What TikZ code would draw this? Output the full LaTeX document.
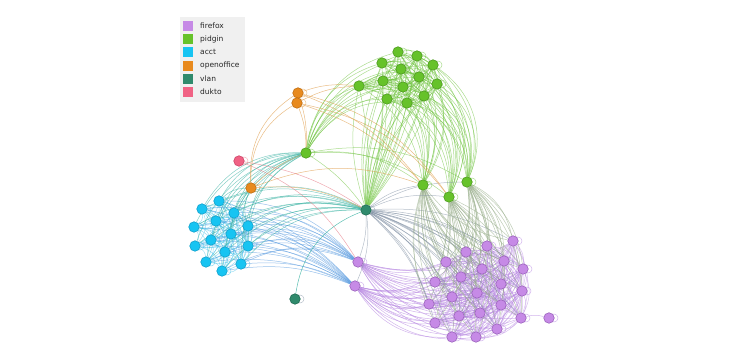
\documentclass[tikz,border=0pt]{standalone}
\usepackage{fontspec}
\setmainfont{DejaVu Sans}
\usetikzlibrary{backgrounds}
\definecolor{lff}{HTML}{C68AE6}
\definecolor{lpi}{HTML}{66C22A}
\definecolor{lac}{HTML}{17C4F2}
\definecolor{loo}{HTML}{E88A1E}
\definecolor{lvl}{HTML}{2F8A6C}
\definecolor{ldu}{HTML}{F06284}
\definecolor{legbg}{HTML}{F0F0F0}
\definecolor{bff}{HTML}{9A62BC}
\definecolor{bpi}{HTML}{4C9A1E}
\definecolor{bac}{HTML}{12A0CC}
\definecolor{boo}{HTML}{C06E12}
\definecolor{bvl}{HTML}{1F6B52}
\definecolor{bdu}{HTML}{CC4469}
\definecolor{egreen}{HTML}{72C443}
\definecolor{ecyan}{HTML}{3CBDE6}
\definecolor{eteal}{HTML}{35B0A0}
\definecolor{eblue}{HTML}{5598DE}
\definecolor{egrey}{HTML}{8493A6}
\definecolor{eolive}{HTML}{93AA85}
\definecolor{epurple}{HTML}{B584E0}
\definecolor{eorange}{HTML}{E0A050}
\definecolor{epink}{HTML}{E8808C}
\begin{document}
\begin{tikzpicture}[x=1pt,y=-1pt,
  vn/.style={circle,minimum size=10.5pt,inner sep=0pt,line width=0.6pt},
  nff/.style={vn,fill=lff,draw=bff},
  npi/.style={vn,fill=lpi,draw=bpi},
  nac/.style={vn,fill=lac,draw=bac},
  noo/.style={vn,fill=loo,draw=boo},
  nvl/.style={vn,fill=lvl,draw=bvl},
  ndu/.style={vn,fill=ldu,draw=bdu},
  ed/.style={line width=0.5pt,opacity=0.6},
  swatch/.style={minimum size=10pt,inner sep=0pt},
  ltext/.style={anchor=west,inner sep=0pt,font=\fontsize{7.5}{8}\selectfont,text=black!85}]
\useasboundingbox (0,0) rectangle (740,363);
% legend
\node[fill=legbg,minimum width=65pt,minimum height=85pt,anchor=north west,inner sep=0pt] (leg) at (180,17) {};
\foreach \t/\c/\y in {firefox/lff/26,pidgin/lpi/39.2,acct/lac/52.4,openoffice/loo/65.6,vlan/lvl/78.8,dukto/ldu/92}{
  \node[swatch,fill=\c] (sw\t) at (187.5,\y) {};
  \node[ltext] (lt\t) at (200,\y) {\t};
}
% nodes
\foreach \n/\x/\y in {g1/398/52,g2/417/56,g3/382/63,g4/433/65,g5/401/69,g6/419/77,g7/383/81,g8/359/86,g9/437/84,g10/403/87,g11/424/96,g12/387/99,g13/407/103,ga/306/153,gb/423/185,gc/449/197,gd/467/182}
  \node[npi] (\n) at (\x,\y) {};
\foreach \n/\x/\y in {c1/219/201,c2/202/209,c3/234/213,c4/216/221,c5/194/227,c6/248/226,c7/231/234,c8/211/240,c9/195/246,c10/248/246,c11/225/252,c12/206/262,c13/241/264,c14/222/271}
  \node[nac] (\n) at (\x,\y) {};
\foreach \n/\x/\y in {p1/513/241,p2/487/246,p3/466/252,p4/446/262,p5/504/261,p6/523/269,p7/482/269,p8/461/277,p9/435/282,p10/501/284,p11/522/291,p12/452/297,p13/477/293,p14/429/304,p15/501/305,p16/459/316,p17/480/313,p18/521/318,p19/435/323,p20/497/329,p21/452/337,p22/476/337,px/549/318,pa/358/262,pb/355/286}
  \node[nff] (\n) at (\x,\y) {};
\foreach \n/\x/\y in {oa/298/93,ob/297/103,oc/251/188}
  \node[noo] (\n) at (\x,\y) {};
\node[nvl] (ta) at (366,210) {};
\node[nvl] (tb) at (295,299) {};
\node[ndu] (ka) at (239,161) {};
\begin{scope}[on background layer]
% self loops
\foreach \n in {g1,g2,g3,g4,g5,g6,g7,g8,g9,g10,g11,g12,g13,ga,gb,gc,gd}
  \draw[ed,egreen] (\n.center) ++(5,0) circle (4);
\foreach \n in {c1,c2,c3,c4,c5,c6,c7,c8,c9,c10,c11,c12,c13,c14}
  \draw[ed,ecyan] (\n.center) ++(5,0) circle (4);
\foreach \n in {p1,p2,p3,p4,p5,p6,p7,p8,p9,p10,p11,p12,p13,p14,p15,p16,p17,p18,p19,p20,p21,p22,px,pa,pb}
  \draw[ed,epurple] (\n.center) ++(5,0) circle (4);
\foreach \n in {oa,ob,oc}
  \draw[ed,eorange] (\n.center) ++(5,0) circle (4);
\draw[ed,egrey] (ta.center) ++(5,0) circle (4);
\draw[ed,egrey] (tb.center) ++(5,0) circle (4);
\draw[ed,epink] (ka.center) ++(5,0) circle (4);
% green cluster internal
\foreach \i in {1,...,12}{
  \pgfmathtruncatemacro\nx{\i+1}
  \foreach \j in {\nx,...,13}{\draw[ed,egreen] (g\i) to[bend left=30] (g\j);}
}
\foreach \i in {1,...,13}{
  \draw[ed,egreen] (g\i) to[bend right=32] (ga);
  \draw[ed,egreen] (g\i) to[bend left=24] (gb);
  \draw[ed,egreen] (g\i) to[bend left=34] (gc);
  \draw[ed,egreen] (g\i) to[bend left=40] (gd);
  \draw[ed,egreen] (g\i) to[bend right=14] (ta);
  \draw[ed,egreen] (g\i) to[bend left=8] (ta);
}
\foreach \k in {gb,gc,gd}{\draw[ed,egreen] (ga) to[bend left=20] (\k);}
% cyan cluster internal
\foreach \i in {1,...,13}{
  \pgfmathtruncatemacro\nx{\i+1}
  \foreach \j in {\nx,...,14}{\draw[ed,ecyan,opacity=0.5] (c\i) to[bend left=30] (c\j);}
}
\foreach \i in {1,...,14}{
  \draw[ed,eteal] (ga) to[bend right=30] (c\i);
  \draw[ed,eteal] (ta) to[bend right=24] (c\i);
  \draw[ed,eblue] (c\i) to[bend left=24] (pa);
  \draw[ed,eblue] (c\i) to[bend left=15] (pb);
}
\foreach \i in {1,3,6,7,10}{\draw[ed,eteal] (oc) to[bend right=20] (c\i);}
% purple cluster internal
\foreach \i in {1,...,21}{
  \pgfmathtruncatemacro\nx{\i+1}
  \foreach \j in {\nx,...,22}{\draw[ed,epurple,opacity=0.5] (p\i) to[bend left=25] (p\j);}
}
\foreach \i in {1,...,22}{
  \draw[ed,epurple] (pa) to[bend right=22] (p\i);
  \draw[ed,epurple] (pb) to[bend right=30] (p\i);
  \draw[ed,egrey] (ta) to[bend left=15] (p\i);
  \draw[ed,eolive] (gb) to[bend right=20] (p\i);
  \draw[ed,eolive] (gc) to[bend left=8] (p\i);
  \draw[ed,eolive] (gd) to[bend left=25] (p\i);
}
\draw[ed,epurple] (p18) to[bend left=15] (px);
% hubs
\draw[ed,egreen] (ga) to[bend left=10] (ta);
\draw[ed,egrey] (pa) to[bend right=10] (ta);
\draw[ed,egrey] (pb) to[bend right=15] (ta);
\foreach \k in {gb,gc,gd}{\draw[ed,egrey] (ta) to[bend left=15] (\k);}
% orange
\foreach \o in {oa,ob}{
  \draw[ed,eorange,opacity=0.7] (\o) to[bend right=30] (oc);
  \draw[ed,eorange,opacity=0.7] (\o) to[bend left=10] (ga);
  \draw[ed,eorange,opacity=0.7] (\o) to[bend left=12] (g8);
  \draw[ed,eorange,opacity=0.7] (\o) to[bend left=15] (gb);
  \draw[ed,eorange,opacity=0.7] (\o) to[bend left=20] (gc);
}
\draw[ed,eorange,opacity=0.7] (oc) to[bend left=15] (ta);
\draw[ed,eorange,opacity=0.7] (oc) to[bend left=20] (gb);
\draw[ed,eorange,opacity=0.7] (oc) to[bend left=10] (ga);
% pink
\draw[ed,epink,opacity=0.7] (ka) to[bend left=18] (pa);
\draw[ed,epink,opacity=0.7] (ka) to[bend left=12] (ta);
% vlan 2
\draw[ed,eteal,opacity=0.8] (tb) to[bend left=30] (ta);
\end{scope}
\end{tikzpicture}
\end{document}
